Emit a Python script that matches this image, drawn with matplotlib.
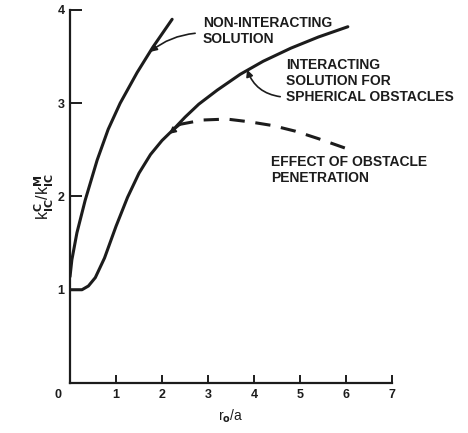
import matplotlib.pyplot as plt

plt.rcParams['font.family'] = ['Liberation Sans', 'DejaVu Sans']
plt.rcParams['font.weight'] = 'bold'

INK = "#1c1c1c"

# values
nonint_x = [0.0, 0.04, 0.15, 0.33, 0.59, 0.83, 1.09, 1.46, 1.8, 2.22]
nonint_y = [1.14, 1.32, 1.61, 1.96, 2.39, 2.72, 3.0, 3.33, 3.6, 3.9]

inter_x = [0.0, 0.26, 0.4, 0.55, 0.75, 1.0, 1.25, 1.5, 1.75, 2.0, 2.25, 2.5, 2.8,
           3.2, 3.7, 4.2, 4.8, 5.4, 6.04]
inter_y = [1.0, 1.0, 1.04, 1.13, 1.34, 1.68, 1.99, 2.25, 2.45, 2.6, 2.72, 2.85, 2.99,
           3.14, 3.31, 3.45, 3.59, 3.71, 3.82]

pen_x = [2.35, 2.89, 3.41, 3.91, 4.41, 4.9, 5.4, 6.09]
pen_y = [2.77, 2.82, 2.83, 2.8, 2.76, 2.7, 2.62, 2.5]

xticks = [1, 2, 3, 4, 5, 6, 7]
yticks = [1, 2, 3, 4]

fig = plt.figure(figsize=(4.68, 4.33), dpi=100)
ax = fig.add_axes([0.1496, 0.1155, 0.688, 0.8615])

ax.plot(nonint_x, nonint_y, color=INK, lw=2.2, solid_capstyle='round', solid_joinstyle='round')
ax.plot(inter_x, inter_y, color=INK, lw=2.2, solid_capstyle='round', solid_joinstyle='round')
ax.plot(pen_x, pen_y, color=INK, lw=2.2, dashes=(5, 3.5))

ax.set_xlim(0, 7)
ax.set_ylim(0, 4)
ax.spines['top'].set_visible(False)
ax.spines['right'].set_visible(False)
for s in ['left', 'bottom']:
    ax.spines[s].set_linewidth(1.6)
    ax.spines[s].set_color(INK)

ax.set_xticks(xticks)
ax.set_yticks(yticks)
ax.tick_params(direction='in', width=1.4, color=INK,
               labelsize=9, labelcolor=INK, pad=4)
ax.tick_params(axis='x', length=6)
ax.tick_params(axis='y', length=8.5)
ax.annotate("0", xy=(0, 0), xytext=(-9, -9), textcoords='offset points',
            ha='center', va='center', fontsize=9, color=INK)

ax.set_xlabel(r"r$_\mathbf{o}$/a", fontsize=10, color=INK, labelpad=5)
ax.set_ylabel(r"k$_\mathbf{IC}^\mathbf{C}$/k$_\mathbf{IC}^\mathbf{M}$",
              fontsize=11.5, color=INK, labelpad=1)

arrow = dict(arrowstyle='-|>', color=INK, lw=1.2, mutation_scale=10,
             shrinkA=0, shrinkB=0)
ax.annotate("NON-INTERACTING\nSOLUTION", xy=(1.74, 3.55), xytext=(2.89, 3.93),
            ha='left', va='top', fontsize=10, color=INK, linespacing=1.15)
ax.annotate("", xy=(1.74, 3.55), xytext=(2.72, 3.75),
            arrowprops=dict(connectionstyle='arc3,rad=0.15', **arrow))

ax.annotate("INTERACTING\nSOLUTION FOR\nSPHERICAL OBSTACLES", xy=(3.85, 3.36),
            xytext=(4.70, 3.49), ha='left', va='top', fontsize=10, color=INK,
            linespacing=1.2)
ax.annotate("", xy=(3.85, 3.36), xytext=(4.57, 3.07),
            arrowprops=dict(connectionstyle='arc3,rad=-0.3', **arrow))

ax.annotate("", xy=(2.15, 2.67), xytext=(2.4, 2.77),
            arrowprops=dict(**arrow))

ax.text(4.37, 2.44, "EFFECT OF OBSTACLE\nPENETRATION", ha='left', va='top',
        fontsize=10, color=INK, linespacing=1.15)

fig.savefig("out.png", dpi=100)
